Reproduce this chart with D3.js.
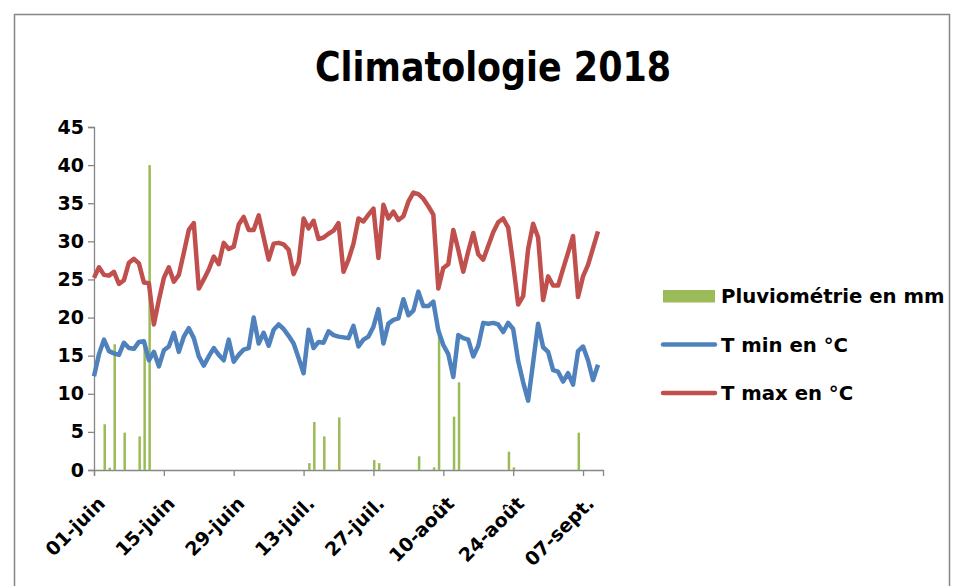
<!DOCTYPE html>
<html>
<head>
<meta charset="utf-8">
<script src="https://cdn.jsdelivr.net/npm/d3@7"></script>
<style>
  body { margin: 0; background: #fff; }
  text { font-family: "DejaVu Sans", "Liberation Sans", Arial, sans-serif; font-weight: bold; fill: #000; }
</style>
</head>
<body>
<div id="chart"></div>
<script>

// daily values, 01-juin -> 10-sept. 2018
var tmax = [25.2, 26.6, 25.6, 25.5, 26.0, 24.4, 24.9, 27.2, 27.7, 27.1,
            24.6, 24.5, 19.1, 22.3, 25.2, 26.6, 24.7, 25.6, 28.5, 31.5,
            32.4, 23.8, 25.0, 26.3, 28.0, 27.0, 29.8, 29.0, 29.3, 32.2,
            33.2, 31.5, 31.5, 33.4, 30.5, 27.6, 29.7, 29.8, 29.6, 28.9,
            25.7, 27.2, 33.0, 31.7, 32.7, 30.3, 30.5, 31.0, 31.4, 32.4,
            26.0, 27.6, 29.7, 33.0, 32.6, 33.5, 34.3, 27.8, 34.8, 33.0,
            33.9, 32.8, 33.3, 35.2, 36.4, 36.2, 35.6, 34.6, 33.5, 23.8,
            26.5, 27.0, 31.5, 28.9, 26.0, 28.7, 31.1, 28.3, 27.6, 29.4,
            31.2, 32.5, 33.0, 31.8, 27.0, 21.7, 22.8, 29.0, 32.3, 30.5,
            22.3, 25.4, 24.2, 24.2, 26.4, 28.5, 30.7, 22.7, 25.4, 26.9,
            29.1, 31.3];

var tmin = [12.3, 15.2, 17.1, 15.6, 15.3, 15.1, 16.7, 16.0, 15.9, 16.8,
            16.9, 14.4, 15.5, 13.6, 15.7, 16.2, 18.0, 15.5, 17.5, 18.6,
            17.3, 14.9, 13.7, 14.9, 16.0, 15.1, 14.4, 17.1, 14.2, 15.1,
            15.8, 16.0, 20.0, 16.6, 18.0, 16.3, 18.4, 19.1, 18.5, 17.6,
            16.6, 14.7, 12.7, 18.4, 16.0, 16.8, 16.7, 18.2, 17.7, 17.5,
            17.4, 17.3, 18.9, 16.2, 17.1, 17.5, 18.8, 21.1, 16.6, 19.2,
            19.7, 19.9, 22.4, 20.3, 20.9, 23.4, 21.5, 21.5, 22.1, 18.3,
            16.4, 15.2, 12.2, 17.7, 17.3, 17.1, 14.9, 16.3, 19.3, 19.2,
            19.3, 19.1, 18.1, 19.3, 18.5, 14.3, 11.5, 9.1, 14.1, 19.2,
            16.1, 15.5, 13.1, 12.9, 11.6, 12.7, 11.2, 15.6, 16.2, 14.4,
            11.8, 13.8];

var pluie = [0, 0, 6.0, 0.3, 16.5, 0, 4.9, 0, 0, 4.4,
             16.0, 40.0, 0, 0, 0, 0, 0, 0, 0, 0,
             0, 0, 0, 0, 0, 0, 0, 0, 0, 0,
             0, 0, 0, 0, 0, 0, 0, 0, 0, 0,
             0, 0, 0, 0.9, 6.3, 0, 4.4, 0, 0, 6.9,
             0, 0, 0, 0, 0, 0, 1.3, 0.9, 0, 0,
             0, 0, 0, 0, 0, 1.8, 0, 0, 0.35, 18.0,
             0, 0, 7.0, 11.5, 0, 0, 0, 0, 0, 0,
             0, 0, 0, 2.4, 0.35, 0, 0, 0, 0, 0,
             0, 0, 0, 0, 0, 0, 0, 4.9, 0, 0,
             0, 0];

var yTicks = [0, 5, 10, 15, 20, 25, 30, 35, 40, 45];
var xTickDates = ["2018-06-01", "2018-06-15", "2018-06-29", "2018-07-13",
                  "2018-07-27", "2018-08-10", "2018-08-24", "2018-09-07"];
var xTickLabels = ["01-juin", "15-juin", "29-juin", "13-juil.",
                   "27-juil.", "10-août", "24-août", "07-sept."];

var seriesNames = ["Pluviométrie en mm", "T min en °C", "T max en °C"];
var colors = {pluie: "#9BBB59", tmin: "#4F81BD", tmax: "#C0504D"};

var width = 962, height = 586;
var start = new Date(Date.UTC(2018, 5, 1));
var dates = tmax.map((d, i) => d3.utcDay.offset(start, i));

var svg = d3.select("#chart").append("svg")
	.attr("width", width)
	.attr("height", height);

svg.append("rect")
	.attr("width", width).attr("height", height)
	.attr("fill", "#fff");

// chart frame
svg.append("path")
	.attr("d", "M14.5," + height + "V14.5H949.5V" + height)
	.attr("fill", "none")
	.attr("stroke", "#868686")
	.attr("stroke-width", 1.5);

svg.append("text")
	.attr("x", 493)
	.attr("y", 81)
	.attr("text-anchor", "middle")
	.attr("font-size", 40)
	.attr("textLength", 356)
	.attr("lengthAdjust", "spacingAndGlyphs")
	.text("Climatologie 2018");

var x = d3.scaleUtc()
	.domain([start, d3.utcDay.offset(start, 102)])
	.range([94, 603]);

var y = d3.scaleLinear()
	.domain([0, 45])
	.range([470, 127]);

// y axis
var yAxis = svg.append("g")
	.attr("transform", "translate(94,0)")
	.call(d3.axisLeft(y).tickValues(yTicks).tickSize(6).tickPadding(4));
yAxis.selectAll("text").attr("font-size", 19).style("font-family", null);

// x axis
var tickDates = xTickDates.map(s => new Date(s + "T00:00:00Z"));
var xAxis = svg.append("g")
	.attr("transform", "translate(0,470)")
	.call(d3.axisBottom(x).tickValues(tickDates).tickSize(6)
		.tickFormat((d, i) => xTickLabels[i]));
xAxis.selectAll("text")
	.attr("font-size", 19)
	.style("font-family", null)
	.attr("text-anchor", "end")
	.attr("dy", "0.35em")
	.attr("transform", "translate(7,30) rotate(-45)")
	.attr("x", 0).attr("y", 0);

svg.selectAll(".domain, .tick line")
	.attr("stroke", "#868686")
	.attr("stroke-width", 1.3);
svg.selectAll(".tick text").attr("fill", "#000");

// rainfall bars
svg.append("g")
	.selectAll("rect")
	.data(pluie.map((v, i) => ({date: dates[i], v: v})).filter(d => d.v > 0))
	.enter()
		.append("rect")
		.attr("x", d => x(d.date) - 0.5)
		.attr("width", 2.5)
		.attr("y", d => y(d.v))
		.attr("height", d => y(0) - y(d.v))
		.attr("fill", colors.pluie);

var line = d3.line()
	.x((d, i) => x(dates[i]))
	.y(d => y(d));

svg.append("path")
	.datum(tmin)
	.attr("d", line)
	.attr("fill", "none")
	.attr("stroke", colors.tmin)
	.attr("stroke-width", 4.5)
	.attr("stroke-linejoin", "round");

svg.append("path")
	.datum(tmax)
	.attr("d", line)
	.attr("fill", "none")
	.attr("stroke", colors.tmax)
	.attr("stroke-width", 4.5)
	.attr("stroke-linejoin", "round");

// legend
var legend = svg.append("g");
var keys = ["pluie", "tmin", "tmax"];
keys.forEach((k, i) => {
	let cy = 296 + i * 48.5;
	if (k === "pluie") {
		legend.append("rect")
			.attr("x", 663).attr("y", cy - 6)
			.attr("width", 52).attr("height", 12.5)
			.attr("fill", colors[k]);
	} else {
		legend.append("line")
			.attr("x1", 663).attr("x2", 715)
			.attr("y1", cy).attr("y2", cy)
			.attr("stroke", colors[k])
			.attr("stroke-width", 4.5)
			.attr("stroke-linecap", "round");
	}
	legend.append("text")
		.attr("x", 721)
		.attr("y", cy + 7)
		.attr("font-size", 19.7)
		.text(seriesNames[i]);
});

</script>
</body>
</html>
